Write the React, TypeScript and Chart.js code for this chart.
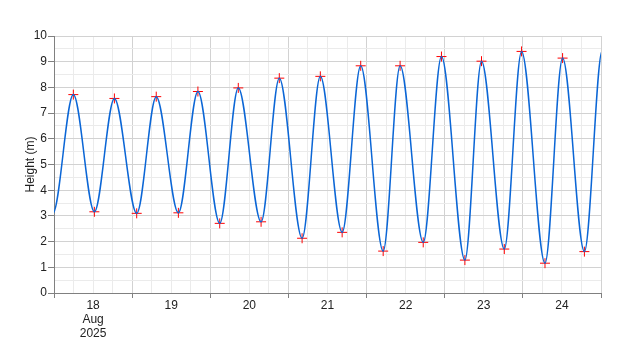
import React, { useEffect, useRef } from "react";
import { Chart, registerables } from "chart.js";

Chart.register(...registerables);

// Hours since 18 Aug 2025 00:00 of each high / low water
const tideHours = [-6.7, -0.4, 5.94, 12.4, 18.55, 25.4, 31.4, 38.2, 44.2, 50.9, 56.6, 63.6, 69.2, 76.2, 81.8, 88.5, 94.2, 101.1, 106.3, 113.4, 119.0, 126.2, 131.3, 138.3, 143.6, 150.8, 156.2, 162.9, 168.4, 175.3];
// Heights (m) at those times
const tideHeights = [7.8, 3.08, 7.72, 3.16, 7.57, 3.1, 7.64, 3.12, 7.84, 2.71, 7.98, 2.77, 8.36, 2.13, 8.43, 2.36, 8.84, 1.63, 8.84, 1.97, 9.2, 1.28, 9.02, 1.71, 9.4, 1.16, 9.14, 1.61, 9.44, 1.2];

const dayLabels = ["18", "19", "20", "21", "22", "23", "24"];
const monthLabel = "Aug";
const yearLabel = "2025";
const yTitle = "Height (m)";

export default function App() {
  const ref = useRef<HTMLCanvasElement>(null);

  useEffect(() => {
    document.body.style.margin = "0";
    const lineData = tideHours.map((h, i) => ({ x: h, y: tideHeights[i] }));
    const markerData = lineData.filter((p) => p.x >= 0 && p.x <= 168);
    const font = { family: "'Liberation Sans', Arial, sans-serif", size: 12 };

    const chart = new Chart(ref.current as HTMLCanvasElement, {
      type: "line",
      data: {
        datasets: [
          {
            data: lineData,
            borderColor: "#0b66d6",
            borderWidth: 1.5,
            pointRadius: 0,
            cubicInterpolationMode: "monotone",
            clip: 0,
            order: 0,
          } as any,
          {
            data: markerData,
            showLine: false,
            pointStyle: "cross",
            pointRadius: 5,
            pointBorderColor: "#ff0000",
            pointBorderWidth: 1,
            order: 1,
          } as any,
        ],
      },
      options: {
        responsive: false,
        animation: false,
        layout: { padding: { top: 36, right: 19, left: 0, bottom: 0 } },
        plugins: { legend: { display: false }, tooltip: { enabled: false } },
        scales: {
          x: {
            type: "linear",
            min: 0,
            max: 168,
            afterFit: (s: any) => {
              s.height = 57;
            },
            border: { color: "#808080", width: 1 },
            grid: {
              color: (c: any) => (c.tick && c.tick.value % 24 === 0 ? "#d2d2d2" : "#ebebeb"),
              tickColor: (c: any) => (c.tick && c.tick.value % 24 === 0 ? "#808080" : "rgba(0,0,0,0)"),
              tickLength: 5,
            },
            ticks: {
              stepSize: 6,
              autoSkip: false,
              maxRotation: 0,
              padding: 1,
              color: "#222",
              font: { ...font, lineHeight: 1.15 },
              callback: (v: any) => {
                const n = Number(v);
                if (n % 24 !== 12) return "";
                const d = Math.floor(n / 24);
                if (d === 0) return [dayLabels[0], monthLabel, yearLabel];
                return dayLabels[d] ?? "";
              },
            },
          },
          y: {
            min: 0,
            max: 10,
            afterFit: (s: any) => {
              s.width = 54;
            },
            border: { color: "#808080", width: 1 },
            grid: {
              color: (c: any) => (c.tick && Number.isInteger(c.tick.value) ? "#d2d2d2" : "#ebebeb"),
              tickColor: (c: any) => (c.tick && Number.isInteger(c.tick.value) ? "#808080" : "rgba(0,0,0,0)"),
              tickLength: 6,
            },
            ticks: {
              stepSize: 0.5,
              autoSkip: false,
              padding: 1,
              color: "#222",
              font,
              callback: (v: any) => (Number.isInteger(Number(v)) ? String(v) : ""),
            },
            title: {
              display: true,
              text: yTitle,
              color: "#222",
              font,
              padding: { top: 23, bottom: 0 },
            },
          },
        },
      },
    });
    return () => chart.destroy();
  }, []);

  return (
    <div style={{ width: 620, height: 350 }}>
      <canvas ref={ref} width={620} height={350} style={{ display: "block" }} />
    </div>
  );
}
